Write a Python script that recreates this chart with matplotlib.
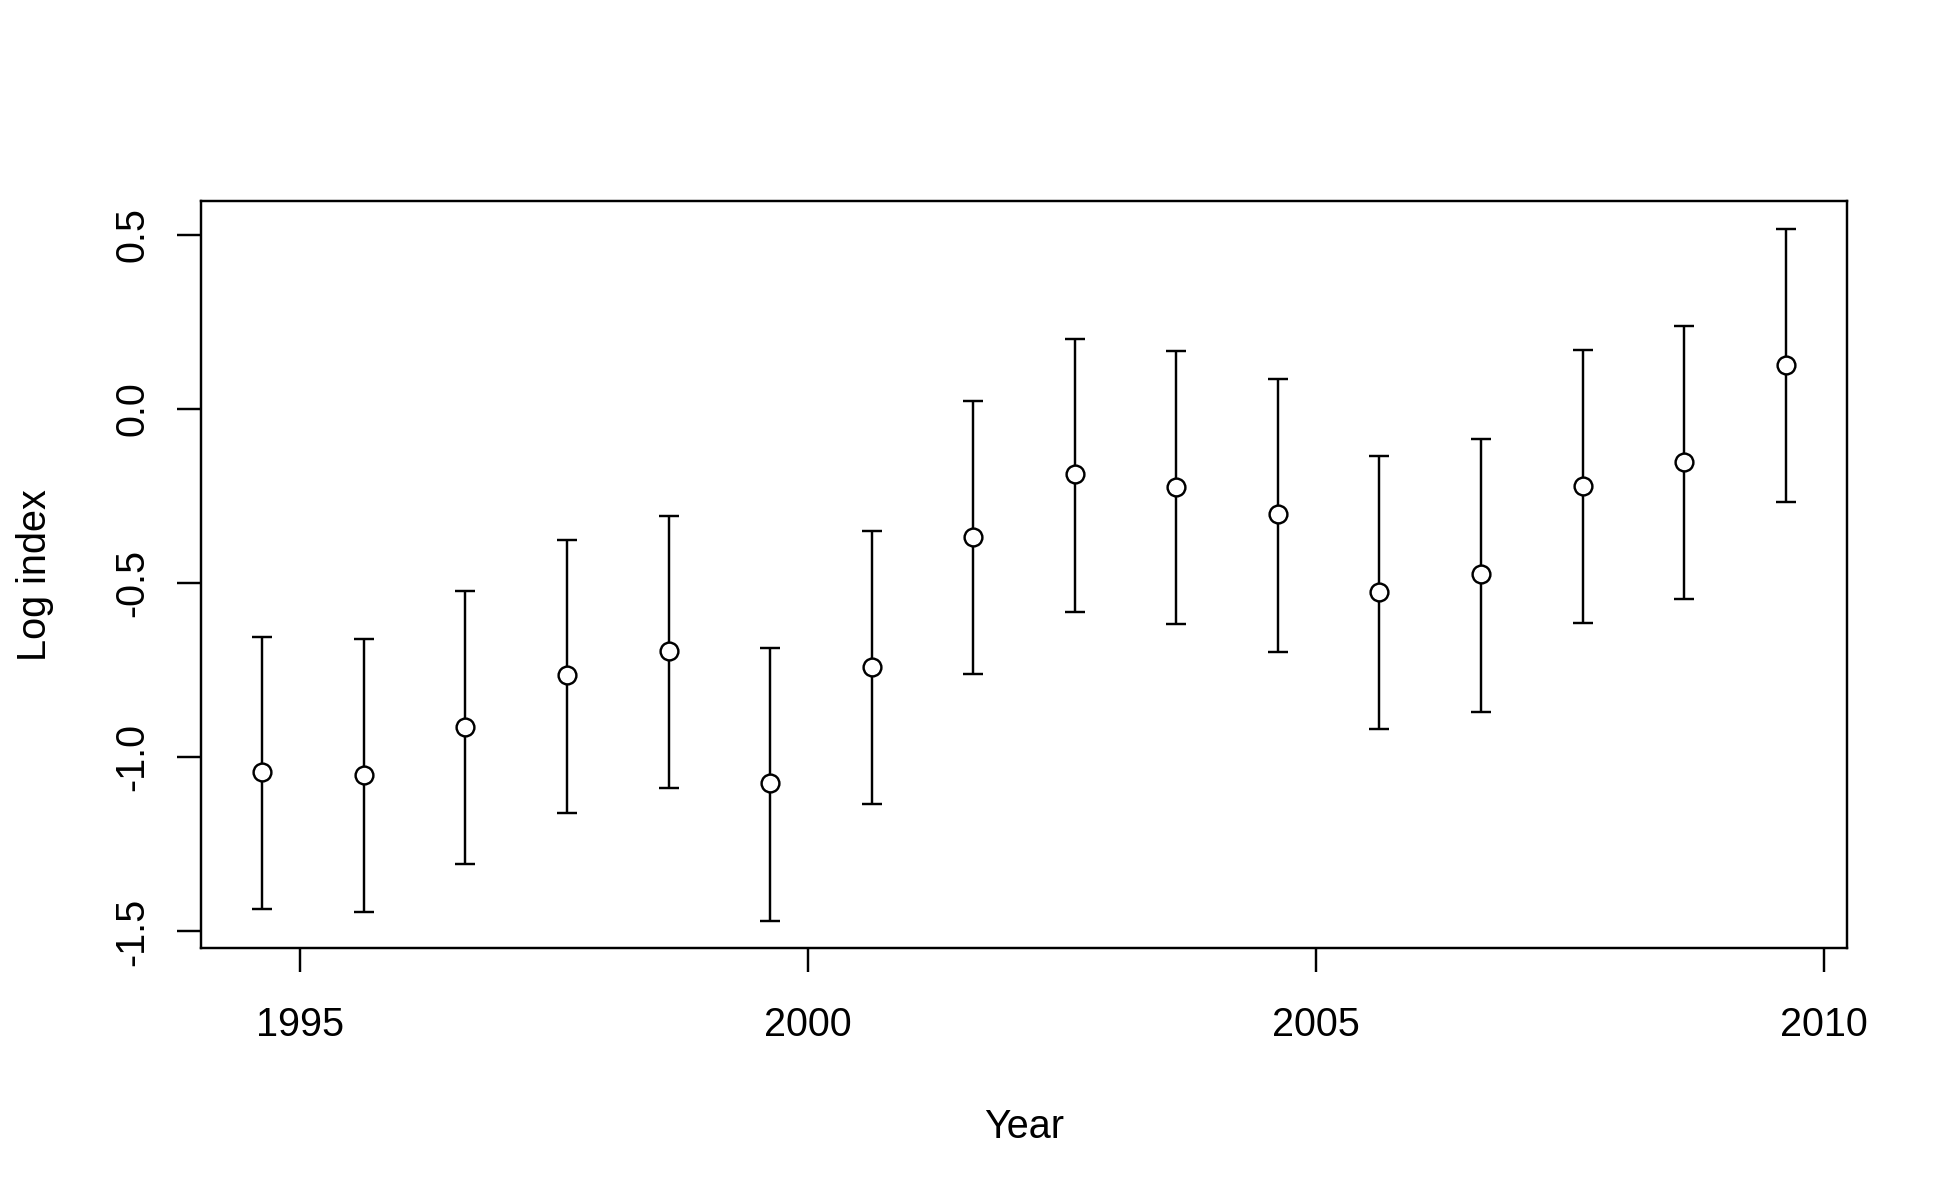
import numpy as np
import matplotlib.pyplot as plt

# ---- data ----
years = np.arange(16) + 1994.625
log_index = [-1.041, -1.051, -0.913, -0.764, -0.695, -1.075, -0.740, -0.368,
             -0.187, -0.225, -0.302, -0.524, -0.474, -0.222, -0.152, 0.128]
upper = [-0.653, -0.661, -0.522, -0.377, -0.308, -0.685, -0.351, 0.023,
         0.200, 0.166, 0.086, -0.135, -0.087, 0.169, 0.238, 0.517]
lower = [-1.434, -1.445, -1.306, -1.161, -1.089, -1.469, -1.133, -0.761,
         -0.584, -0.617, -0.698, -0.919, -0.871, -0.615, -0.546, -0.267]
xticks = [1995, 2000, 2005, 2010]
yticks = [-1.5, -1.0, -0.5, 0.0, 0.5]

plt.rcParams['font.family'] = ['Liberation Sans', 'DejaVu Sans']
FS = 28.5
LW = 1.75

fig = plt.figure(figsize=(19.5, 12), dpi=100)
ax = fig.add_axes([0.1033, 0.2097, 0.8437, 0.8322 - 0.2097])

y = np.array(log_index)
yerr = [y - np.array(lower), np.array(upper) - y]
ax.errorbar(years, y, yerr=yerr, fmt='none', ecolor='black',
            elinewidth=LW, capsize=7.2, capthick=LW, zorder=2)
ax.plot(years, y, 'o', ms=12.8, mfc='white', mec='black', mew=1.75, zorder=3)

# R-style 4% padding
xr = years[-1] - years[0]
ax.set_xlim(years[0] - 0.04 * xr, years[-1] + 0.04 * xr)
yr = max(upper) - min(lower)
ax.set_ylim(min(lower) - 0.04 * yr, max(upper) + 0.04 * yr)

ax.set_xticks(xticks)
ax.set_xticklabels([str(t) for t in xticks])
ax.set_yticks(yticks)
ax.set_yticklabels(['%.1f' % t for t in yticks], rotation=90, va='center')
ax.tick_params(direction='out', length=17.3, width=LW, labelsize=FS, color='black')
ax.tick_params(axis='x', pad=24.5)
ax.tick_params(axis='y', pad=19)
for s in ax.spines.values():
    s.set_linewidth(LW)

fig.text(0.1033 + 0.8437 / 2, 1 - 1137.5 / 1200, 'Year', ha='center',
         va='baseline', fontsize=FS)
fig.text(35.5 / 1950, 1 - 575 / 1200, 'Log index', ha='center', va='center',
         rotation=90, fontsize=FS)

fig.savefig('out.png', dpi=100)
